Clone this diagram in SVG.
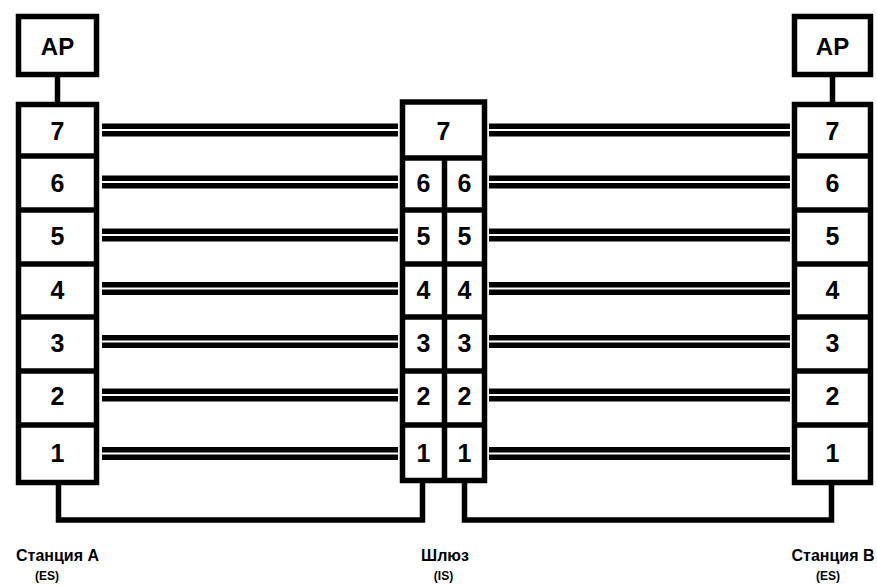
<svg xmlns="http://www.w3.org/2000/svg" width="877" height="586" viewBox="0 0 877 586">
<style>
.box{fill:#fff;stroke:#000;stroke-width:5.5}
.div{stroke:#000;stroke-width:5.5;fill:none}
.con{stroke:#000;stroke-width:5.5;fill:none}
.dbl{stroke:#000;stroke-width:5.5}
.num{font-family:"Liberation Sans",Arial,sans-serif;font-weight:bold;font-size:25px;text-anchor:middle;fill:#000}
.ap{font-family:"Liberation Sans",Arial,sans-serif;font-weight:bold;font-size:24px;text-anchor:middle;fill:#000}
.lbl{font-family:"Liberation Sans",Arial,sans-serif;font-weight:bold;font-size:16px;text-anchor:middle;fill:#000}
.sub{font-family:"Liberation Sans",Arial,sans-serif;font-weight:bold;font-size:12px;text-anchor:middle;fill:#000}
</style>
<rect width="877" height="586" fill="#fff"/>
<g id="connectors">
  <line class="con" x1="57.5" y1="74.5" x2="57.5" y2="104.5"/>
  <line class="con" x1="832.5" y1="74.5" x2="832.5" y2="104.5"/>
  <polyline class="con" points="58.5,482 58.5,520 422.5,520 422.5,480"/>
  <polyline class="con" points="464.5,480 464.5,520 831.5,520 831.5,482"/>
  <g id="links-left">
    <line class="dbl" x1="102" y1="126.2" x2="398" y2="126.2"/><line class="dbl" x1="102" y1="133.8" x2="398" y2="133.8"/>
    <line class="dbl" x1="102" y1="178.2" x2="398" y2="178.2"/><line class="dbl" x1="102" y1="185.8" x2="398" y2="185.8"/>
    <line class="dbl" x1="102" y1="231.2" x2="398" y2="231.2"/><line class="dbl" x1="102" y1="238.8" x2="398" y2="238.8"/>
    <line class="dbl" x1="102" y1="284.7" x2="398" y2="284.7"/><line class="dbl" x1="102" y1="292.3" x2="398" y2="292.3"/>
    <line class="dbl" x1="102" y1="337.7" x2="398" y2="337.7"/><line class="dbl" x1="102" y1="345.3" x2="398" y2="345.3"/>
    <line class="dbl" x1="102" y1="391.2" x2="398" y2="391.2"/><line class="dbl" x1="102" y1="398.8" x2="398" y2="398.8"/>
    <line class="dbl" x1="102" y1="449.7" x2="398" y2="449.7"/><line class="dbl" x1="102" y1="457.3" x2="398" y2="457.3"/>
  </g>
  <g id="links-right">
    <line class="dbl" x1="489" y1="126.2" x2="790" y2="126.2"/><line class="dbl" x1="489" y1="133.8" x2="790" y2="133.8"/>
    <line class="dbl" x1="489" y1="178.2" x2="790" y2="178.2"/><line class="dbl" x1="489" y1="185.8" x2="790" y2="185.8"/>
    <line class="dbl" x1="489" y1="231.2" x2="790" y2="231.2"/><line class="dbl" x1="489" y1="238.8" x2="790" y2="238.8"/>
    <line class="dbl" x1="489" y1="284.7" x2="790" y2="284.7"/><line class="dbl" x1="489" y1="292.3" x2="790" y2="292.3"/>
    <line class="dbl" x1="489" y1="337.7" x2="790" y2="337.7"/><line class="dbl" x1="489" y1="345.3" x2="790" y2="345.3"/>
    <line class="dbl" x1="489" y1="391.2" x2="790" y2="391.2"/><line class="dbl" x1="489" y1="398.8" x2="790" y2="398.8"/>
    <line class="dbl" x1="489" y1="449.7" x2="790" y2="449.7"/><line class="dbl" x1="489" y1="457.3" x2="790" y2="457.3"/>
  </g>
</g>
<g id="ap-a">
  <rect class="box" x="18.5" y="16.5" width="78" height="58"/>
  <text class="ap" x="57.5" y="54.5">AP</text>
</g>
<g id="ap-b">
  <rect class="box" x="794.5" y="16.5" width="76" height="58"/>
  <text class="ap" x="832.5" y="54.5">AP</text>
</g>
<g id="station-a">
  <rect class="box" x="18.5" y="104.5" width="78" height="378"/>
  <line class="div" x1="18.5" y1="156" x2="96.5" y2="156"/>
  <line class="div" x1="18.5" y1="210" x2="96.5" y2="210"/>
  <line class="div" x1="18.5" y1="264" x2="96.5" y2="264"/>
  <line class="div" x1="18.5" y1="317" x2="96.5" y2="317"/>
  <line class="div" x1="18.5" y1="371" x2="96.5" y2="371"/>
  <line class="div" x1="18.5" y1="425" x2="96.5" y2="425"/>
  <text class="num" x="57.5" y="140">7</text>
  <text class="num" x="57.5" y="192">6</text>
  <text class="num" x="57.5" y="245">5</text>
  <text class="num" x="57.5" y="299">4</text>
  <text class="num" x="57.5" y="352">3</text>
  <text class="num" x="57.5" y="405">2</text>
  <text class="num" x="57.5" y="462">1</text>
</g>
<g id="gateway">
  <rect class="box" x="402.5" y="102" width="82" height="378.5"/>
  <line class="div" x1="402.5" y1="158" x2="484.5" y2="158"/>
  <line class="div" x1="402.5" y1="210" x2="484.5" y2="210"/>
  <line class="div" x1="402.5" y1="264" x2="484.5" y2="264"/>
  <line class="div" x1="402.5" y1="317" x2="484.5" y2="317"/>
  <line class="div" x1="402.5" y1="371" x2="484.5" y2="371"/>
  <line class="div" x1="402.5" y1="425" x2="484.5" y2="425"/>
  <line class="div" x1="444.5" y1="158" x2="444.5" y2="480.5"/>
  <text class="num" x="443.5" y="140">7</text>
  <text class="num" x="423.5" y="192">6</text><text class="num" x="464.5" y="192">6</text>
  <text class="num" x="423.5" y="245">5</text><text class="num" x="464.5" y="245">5</text>
  <text class="num" x="423.5" y="299">4</text><text class="num" x="464.5" y="299">4</text>
  <text class="num" x="423.5" y="352">3</text><text class="num" x="464.5" y="352">3</text>
  <text class="num" x="423.5" y="405">2</text><text class="num" x="464.5" y="405">2</text>
  <text class="num" x="423.5" y="462">1</text><text class="num" x="464.5" y="462">1</text>
</g>
<g id="station-b">
  <rect class="box" x="794.5" y="104.5" width="76" height="378"/>
  <line class="div" x1="794.5" y1="156" x2="870.5" y2="156"/>
  <line class="div" x1="794.5" y1="210" x2="870.5" y2="210"/>
  <line class="div" x1="794.5" y1="264" x2="870.5" y2="264"/>
  <line class="div" x1="794.5" y1="317" x2="870.5" y2="317"/>
  <line class="div" x1="794.5" y1="371" x2="870.5" y2="371"/>
  <line class="div" x1="794.5" y1="425" x2="870.5" y2="425"/>
  <text class="num" x="832.5" y="140">7</text>
  <text class="num" x="832.5" y="192">6</text>
  <text class="num" x="832.5" y="245">5</text>
  <text class="num" x="832.5" y="299">4</text>
  <text class="num" x="832.5" y="352">3</text>
  <text class="num" x="832.5" y="405">2</text>
  <text class="num" x="832.5" y="462">1</text>
</g>
<g id="labels">
  <text class="lbl" x="57.5" y="561">Станция A</text>
  <text class="sub" x="47" y="580">(ES)</text>
  <text class="lbl" x="445" y="561">Шлюз</text>
  <text class="sub" x="443.5" y="580">(IS)</text>
  <text class="lbl" x="833" y="561">Станция B</text>
  <text class="sub" x="828" y="580">(ES)</text>
</g>
</svg>
